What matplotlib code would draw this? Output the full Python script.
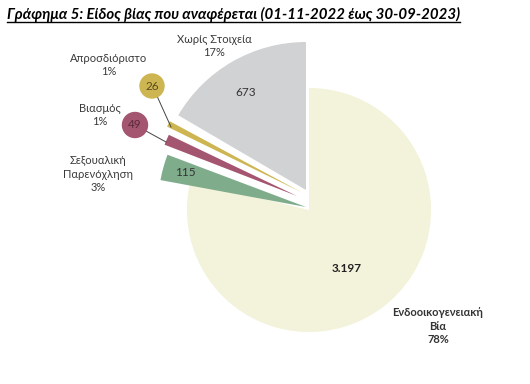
import matplotlib
matplotlib.use("Agg")
import matplotlib.pyplot as plt
from matplotlib.patches import Circle

# data
categories = ["Ενδοοικογενειακή\nΒία", "Σεξουαλική\nΠαρενόχληση", "Βιασμός",
              "Απροσδιόριστο", "Χωρίς Στοιχεία"]
values = [3197, 115, 49, 26, 673]
percent_labels = ["78%", "3%", "1%", "1%", "17%"]
colors = ["#F3F2DA", "#7FAD8C", "#A4556F", "#CDB651", "#D1D2D4"]

title = "Γράφημα 5: Είδος βίας που αναφέρεται (01-11-2022 έως 30-09-2023)"

plt.rcParams['font.family'] = ['Lato', 'DejaVu Sans']

fig = plt.figure(figsize=(5.3, 3.84), dpi=100)
ax = fig.add_axes([0, 0, 1, 1])

# y axis is inverted below (pixel-like coords), so counterclock=True with
# startangle=-90 gives a clockwise pie starting at 12 o'clock
wedges, _ = ax.pie(values, colors=colors, startangle=-90, counterclock=True,
                   radius=122, center=(309, 210),
                   wedgeprops=dict(linewidth=0))

# exploded wedges: (tip position, radius, extra rotation in degrees)
offsets = [((309, 210), 122, 0), ((306, 207), 148, -3), ((297, 196), 142, -2.5),
           ((301, 192), 149, -2), ((306, 190), 148, 0)]
for w, (c, r, rot) in zip(wedges, offsets):
    w.set_center(c)
    w.set_radius(r)
    w.set_theta1(w.theta1 + rot)
    w.set_theta2(w.theta2 + rot)

ax.set_xlim(0, 530)
ax.set_ylim(384, 0)
ax.set_aspect('equal')
ax.axis('off')

def fmt(v):
    return f"{v:,}".replace(",", ".")

txt = "#3a3a3a"
lab_kw = dict(fontsize=8, color=txt, ha='center', va='center', linespacing=1.3)

# big slice
ax.text(347, 268, fmt(values[0]), fontsize=8.5, fontweight='bold', color='#222222',
        ha='center', va='center')
ax.text(438, 326, categories[0] + "\n" + percent_labels[0], fontsize=8,
        fontweight='bold', color='#333333', ha='center', va='center', linespacing=1.3)

# sexual harassment
ax.text(185, 173, fmt(values[1]), fontsize=8.5, color='#333333', ha='center', va='center')
ax.text(98, 174, categories[1] + "\n" + percent_labels[1], **lab_kw)

# rape - value in a circle with a leader line
ax.plot([146, 166], [131, 142], color='#444444', lw=0.7)
ax.add_patch(Circle((135, 125), 12.5, color=colors[2], zorder=3))
ax.text(135, 125, fmt(values[2]), fontsize=8.5, color='#5a2a3a', ha='center', va='center', zorder=4)
ax.text(100, 115, categories[2] + "\n" + percent_labels[2], **lab_kw)

# undefined - value in a circle with a leader line
ax.plot([157, 171], [96, 127], color='#444444', lw=0.7)
ax.add_patch(Circle((152, 86), 12, color=colors[3], zorder=3))
ax.text(152, 86, fmt(values[3]), fontsize=8.5, color='#5a4a20', ha='center', va='center', zorder=4)
ax.text(109, 65, categories[3] + "\n" + percent_labels[3], **lab_kw)

# no data
ax.text(246, 93, fmt(values[4]), fontsize=8.5, color='#333333', ha='center', va='center')
ax.text(214, 46, categories[4] + "\n" + percent_labels[4], **lab_kw)

# underlined bold italic title
t = ax.text(7, 14, title, fontsize=10.85, fontweight='bold', fontstyle='italic',
            color='black', ha='left', va='center')
fig.canvas.draw()
bb = t.get_window_extent().transformed(ax.transData.inverted())
ax.plot([bb.x0, bb.x1], [bb.y0 + 0.5, bb.y0 + 0.5], color='black', lw=1)

fig.savefig("out.png", dpi=100)
